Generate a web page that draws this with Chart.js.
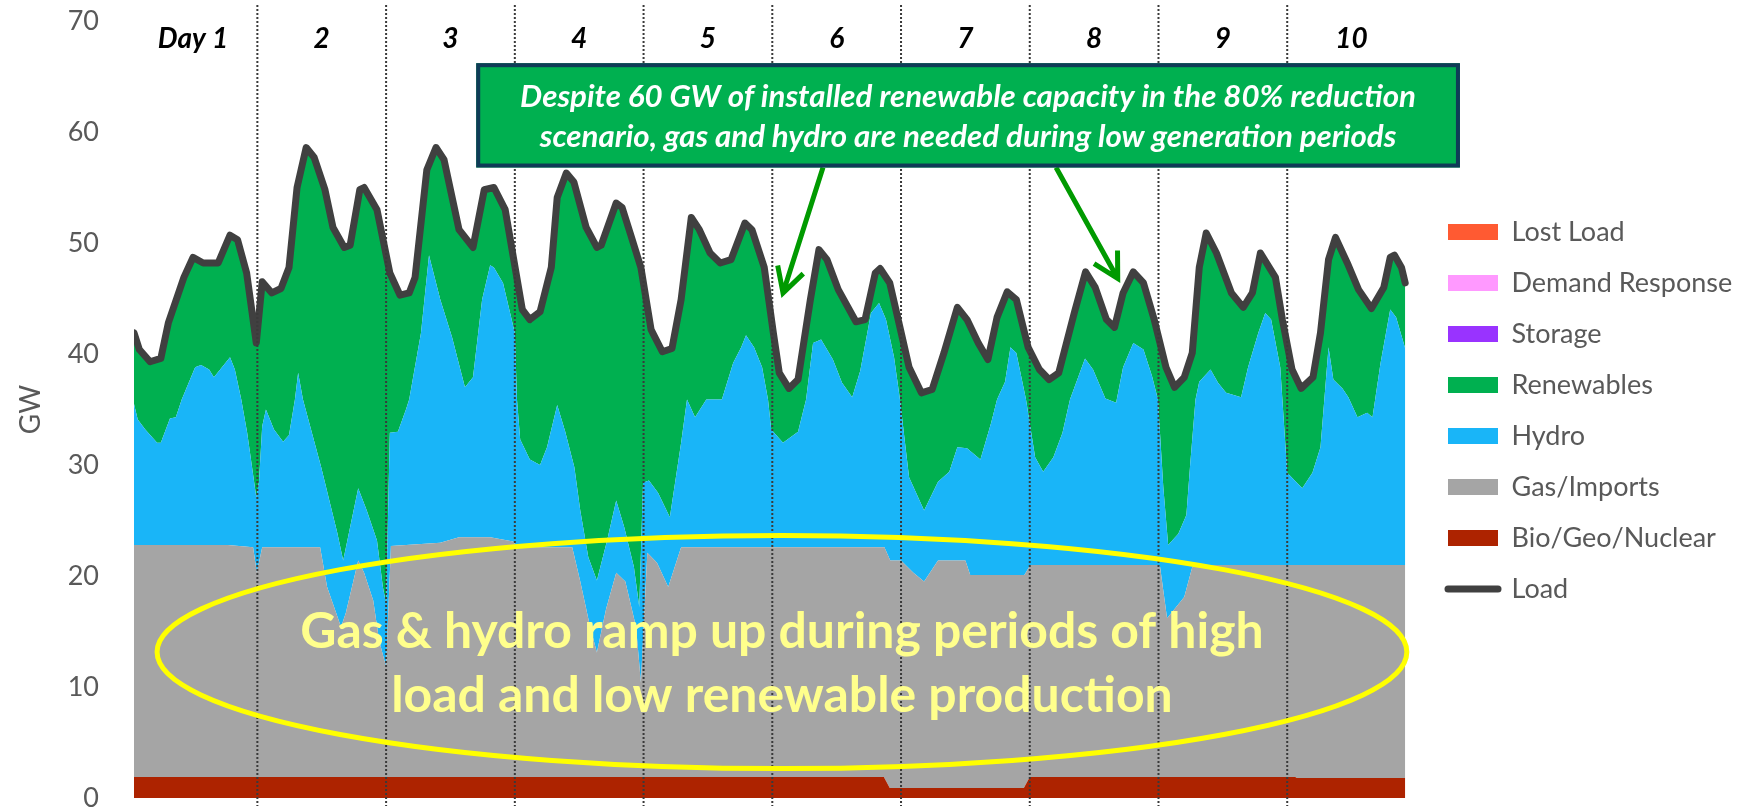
<!DOCTYPE html>
<html>
<head>
<meta charset="utf-8">
<script src="https://cdn.jsdelivr.net/npm/chart.js@4.4.1/dist/chart.umd.min.js"></script>
<style>
    html, body { margin: 0; padding: 0; background: #fff; }
</style>
</head>
<body>
<canvas id="dispatchChart" width="1743" height="809"></canvas>
<script>
const dayLabels = ['Day 1', '2', '3', '4', '5', '6', '7', '8', '9', '10'];
const hoursPerDay = 24;
const yTicks = [0, 10, 20, 30, 40, 50, 60, 70];

// load (GW) read at the hours where the curve turns
const loadHours = [1, 2, 4, 6, 7.4, 10.3, 12, 13.9, 16.7, 18.9,
    20.3, 22, 23.8, 24.9, 26.7, 28.4, 29.9, 31.4, 33.1, 34.6,
    36.6, 38.1, 40.2, 41.3, 43.1, 43.9, 46.3, 48.7, 50.6, 52.3,
    53.4, 55.6, 57.3, 58.8, 61.6, 64.2, 66.3, 68.1, 70.2, 73.4,
    74.8, 76.7, 78.8, 79.9, 81.6, 83, 85.3, 87.3, 88.1, 90.9,
    92, 93.5, 95.5, 97.4, 99.5, 101.3, 103, 104.9, 106.4, 108.4,
    110.3, 112.3, 114.9, 116.2, 118.5, 120.2, 121.3, 123.1, 124.8, 127.1,
    128.7, 130.2, 132.3, 135.6, 137.3, 139.2, 140.1, 141.9, 143.8, 145.5,
    147.8, 149.8, 152, 154.5, 156.3, 158.4, 160.2, 161.9, 163.8, 165.5,
    167.7, 169.8, 171.6, 173.4, 176.3, 178.4, 180.2, 182.3, 183.8, 185.4,
    187.3, 189.2, 191.2, 193.4, 195, 196.8, 198.3, 199.6, 200.9, 202.8,
    205.6, 207.8, 209.5, 211, 213.8, 215.1, 216.9, 218.6, 220.8, 222.2,
    223.7, 225, 227.2, 229.3, 231.7, 234, 235.2, 236, 237.3, 238];
const loadGW = [41.9, 40.4, 39.3, 39.6, 42.8, 46.9, 48.7, 48.2, 48.2, 50.7,
    50.3, 47.3, 41.0, 46.5, 45.5, 45.9, 47.8, 55.0, 58.6, 57.7,
    54.8, 51.4, 49.6, 49.8, 54.8, 55.0, 53.0, 47.3, 45.3, 45.5,
    46.9, 56.6, 58.6, 57.5, 51.2, 49.6, 54.8, 55.0, 53.0, 44.0,
    43.1, 43.8, 47.8, 54.1, 56.3, 55.5, 51.4, 49.6, 49.8, 53.6,
    53.2, 50.9, 47.8, 42.2, 40.2, 40.5, 44.9, 52.3, 51.2, 49.1,
    48.2, 48.5, 51.8, 51.2, 47.8, 41.9, 38.3, 36.9, 37.7, 44.9,
    49.4, 48.5, 45.8, 42.9, 43.1, 47.3, 47.7, 46.4, 42.4, 38.8,
    36.5, 36.8, 40.1, 44.2, 43.1, 41.0, 39.5, 43.3, 45.6, 44.9,
    40.6, 38.6, 37.7, 38.3, 43.7, 47.4, 46.0, 43.1, 42.4, 45.5,
    47.4, 46.4, 43.1, 38.8, 37.0, 37.9, 40.1, 47.8, 50.9, 49.1,
    45.5, 44.2, 45.5, 49.1, 46.9, 43.1, 38.6, 36.9, 37.9, 41.9,
    48.5, 50.5, 48.2, 45.8, 44.1, 46.0, 48.7, 48.9, 47.8, 46.4];

// upper edge of the hydro band (stacked GW)
const hydroHours = [1, 1.7, 3.1, 5.3, 6.0, 7.7, 8.8, 9.9, 12.4, 13.5,
    15.0, 15.9, 17.4, 18.9, 19.8, 21.0, 22.1, 23.8, 24.3, 24.9,
    25.6, 27.1, 28.8, 29.9, 31.0, 31.6, 32.5, 35.9, 38.9, 40.0,
    40.9, 42.8, 44.4, 46.3, 47.4, 48.0, 48.7, 50.2, 51.7, 52.3,
    54.5, 56.0, 58.1, 60.3, 62.7, 64.2, 65.9, 67.4, 68.1, 69.8,
    72.0, 72.4, 73.0, 74.8, 76.7, 78.0, 79.9, 81.4, 83.1, 84.2,
    85.7, 87.3, 89.2, 90.9, 92.4, 94.2, 95.2, 95.9, 97.0, 98.7,
    100.9, 103.0, 104.1, 105.6, 107.7, 110.6, 112.7, 114.2, 115.1, 116.6,
    118.1, 119.2, 119.8, 122.0, 124.8, 126.3, 127.6, 129.1, 131.3, 133.0,
    134.9, 136.4, 138.4, 139.9, 141.2, 142.7, 143.8, 145.5, 148.3, 150.9,
    153.0, 154.5, 156.3, 158.8, 160.8, 161.9, 163.4, 164.4, 165.5, 167.3,
    169.0, 170.5, 172.4, 174.1, 175.5, 178.3, 179.8, 182.1, 184.1, 185.4,
    187.3, 189.2, 190.8, 191.9, 192.9, 193.8, 195.7, 197.2, 197.9, 198.9,
    199.6, 201.7, 203.1, 204.6, 207.4, 208.7, 210.6, 211.9, 213.0, 214.7,
    216.0, 218.8, 220.7, 222.2, 223.7, 224.6, 226.3, 227.4, 229.1, 230.9,
    231.9, 233.4, 235.2, 236.3, 238.0];
const hydroTopGW = [35.5, 34.1, 33.2, 32.0, 32.0, 34.2, 34.3, 35.9, 38.8, 39.0,
    38.6, 37.9, 38.8, 39.7, 38.6, 35.9, 32.9, 27.1, 28.5, 33.5,
    35.0, 33.2, 32.1, 32.7, 35.9, 38.3, 35.9, 29.8, 23.9, 21.4,
    23.5, 27.9, 25.9, 23.2, 19.0, 17.5, 32.9, 33.0, 35.0, 35.9,
    41.9, 48.9, 44.9, 41.5, 37.0, 37.9, 44.9, 48.0, 47.8, 46.4,
    41.9, 35.9, 32.3, 30.5, 30.0, 31.6, 35.4, 33.0, 29.8, 25.9,
    21.7, 19.6, 23.2, 26.8, 24.4, 20.8, 17.2, 28.4, 28.6, 27.5,
    25.3, 32.0, 35.9, 34.3, 35.9, 35.9, 39.2, 40.6, 41.7, 40.6,
    38.8, 35.9, 33.2, 32.0, 33.0, 35.9, 41.0, 41.3, 39.5, 37.4,
    36.1, 38.5, 43.7, 44.6, 43.1, 39.7, 35.9, 28.9, 25.9, 28.5,
    29.4, 31.6, 31.5, 30.5, 33.8, 35.9, 37.5, 40.6, 40.1, 35.9,
    30.7, 29.4, 30.7, 32.9, 35.9, 39.6, 38.6, 36.0, 35.6, 38.8,
    41.0, 40.4, 38.0, 35.9, 28.0, 22.8, 23.8, 25.5, 30.0, 35.9,
    37.5, 38.6, 37.4, 36.5, 36.1, 38.8, 41.9, 43.7, 43.1, 38.8,
    29.3, 27.9, 29.3, 31.6, 40.6, 37.7, 36.9, 36.1, 34.3, 34.7,
    34.3, 39.2, 44.0, 43.3, 40.5];

// upper edge of the gas/imports band (stacked GW)
const gasHours = [1, 18.5, 23.2, 23.9, 24.9, 35.7, 37.0, 39.6, 40.5, 42.8,
    43.9, 45.6, 46.7, 48.0, 48.9, 58.1, 61.6, 67.4, 71.7, 72.4,
    82.7, 84.2, 86.0, 87.3, 89.0, 90.9, 92.6, 94.6, 95.5, 96.7,
    98.5, 100.6, 103.0, 140.9, 142.0, 144.0, 146.3, 148.3, 150.9, 156.0,
    156.9, 167.0, 168.1, 191.9, 192.3, 193.6, 196.8, 198.3, 198.9, 238];
const gasTopGW = [22.8, 22.8, 22.6, 20.3, 22.6, 22.6, 19.0, 15.4, 16.7, 21.4,
    20.3, 17.8, 14.2, 11.8, 22.7, 23.0, 23.5, 23.5, 23.1, 22.6,
    22.6, 19.5, 15.5, 13.1, 17.0, 20.3, 19.5, 15.4, 10.4, 22.1,
    21.2, 19.0, 22.6, 22.6, 21.4, 21.4, 20.3, 19.5, 21.4, 21.4,
    20.1, 20.1, 21.0, 21.0, 20.8, 16.2, 18.1, 20.8, 21.0, 21.0];

const bioHours = [1, 140.8, 141.9, 166.9, 168.0, 217.5, 217.8, 238];
const bioGW = [1.9, 1.9, 0.9, 0.9, 1.9, 1.9, 1.8, 1.8];

// storage, demand response and lost load stay at zero
const zeroHours = [1, 238];
const zeroGW = [0, 0];

const callout = {
    from: [64.8, 66.2],
    to: [248.2, 56.8],
    lines: ['Despite 60 GW of installed renewable capacity in the 80% reduction',
        'scenario, gas and hydro are needed during low generation periods'],
    baselines: [62.25, 58.65]
};
const arrows = [
    { from: [129.45, 56.8], to: [122.0, 45.5] },
    { from: [172.9, 56.8], to: [184.4, 46.8] }
];
const ring = {
    center: [121.8, 13.15],
    radius: [116.5, 10.5],
    lines: ['Gas & hydro ramp up during periods of high', 'load and low renewable production'],
    baselines: [13.5, 7.75]
};

const fontFamily = 'Lato, "Open Sans", sans-serif';
const legendFontSize = 27;
const legendPadding = 24;
const legendBoxWidth = 50;
const plotLeft = 134;
const plotRight = 1424;
Chart.defaults.font.family = fontFamily;

function toPoints(hours, values) {
    return hours.map((h, i) => ({ x: h, y: values[i] }));
}

function areaDataset(label, hours, values, color, fill) {
    return {
        label: label,
        data: toPoints(hours, values),
        backgroundColor: color,
        borderColor: color,
        borderWidth: 0,
        pointRadius: 0,
        pointStyle: 'rect',
        fill: fill
    };
}

function legendRank(item) {
    return item.text === 'Load' ? 100 : -item.datasetIndex;
}

// room left on the right so the legend starts just after the plot
function legendRoom(labels) {
    const ctx = document.createElement('canvas').getContext('2d');
    ctx.font = `normal ${legendFontSize}px ${fontFamily}`;
    const widest = Math.max(...labels.map(l => ctx.measureText(l).width));
    const legendWidth = legendPadding + legendBoxWidth + legendFontSize / 2 + widest + 10;
    return Math.max(0, 1743 - plotRight - legendWidth);
}

function fitFont(ctx, style, text, width, base) {
    ctx.font = `${style} ${base}px ${fontFamily}`;
    const size = base * width / ctx.measureText(text).width;
    ctx.font = `${style} ${size}px ${fontFamily}`;
}

function drawArrow(ctx, x0, y0, x1, y1) {
    const ang = Math.atan2(y1 - y0, x1 - x0);
    const head = 28;
    const spread = 0.5;
    ctx.beginPath();
    ctx.moveTo(x0, y0);
    ctx.lineTo(x1, y1);
    ctx.moveTo(x1 - head * Math.cos(ang - spread), y1 - head * Math.sin(ang - spread));
    ctx.lineTo(x1, y1);
    ctx.lineTo(x1 - head * Math.cos(ang + spread), y1 - head * Math.sin(ang + spread));
    ctx.stroke();
}

// value labels of the GW axis, right aligned a fixed gap left of the plot
const gwLabels = {
    id: 'gwLabels',
    afterDraw(chart) {
        const { ctx, chartArea, scales: { y } } = chart;
        ctx.save();
        ctx.font = `normal 27px ${fontFamily}`;
        ctx.fillStyle = '#595959';
        ctx.textAlign = 'right';
        ctx.textBaseline = 'middle';
        for (const v of yTicks) {
            ctx.fillText(String(v), chartArea.left - 35, y.getPixelForValue(v));
        }
        ctx.restore();
    }
};

const dayDividers = {
    id: 'dayDividers',
    afterDatasetsDraw(chart) {
        const { ctx, chartArea, scales: { x } } = chart;
        ctx.save();
        ctx.strokeStyle = '#3a3a3a';
        ctx.lineWidth = 2;
        ctx.setLineDash([2, 2]);
        for (let d = 1; d < dayLabels.length; d++) {
            const px = x.getPixelForValue(d * hoursPerDay);
            ctx.beginPath();
            ctx.moveTo(px, chartArea.top - 16);
            ctx.lineTo(px, chartArea.bottom + 8);
            ctx.stroke();
        }
        ctx.restore();
    }
};

const notes = {
    id: 'notes',
    afterDraw(chart) {
        const { ctx, scales: { x, y } } = chart;
        const px = (t) => x.getPixelForValue(t);
        const py = (v) => y.getPixelForValue(v);
        ctx.save();

        // arrows first, the callout box hides their tails
        ctx.strokeStyle = '#009a00';
        ctx.lineWidth = 5;
        for (const a of arrows) {
            drawArrow(ctx, px(a.from[0]), py(a.from[1]), px(a.to[0]), py(a.to[1]));
        }

        const bx0 = px(callout.from[0]);
        const by0 = py(callout.from[1]);
        const bx1 = px(callout.to[0]);
        const by1 = py(callout.to[1]);
        ctx.fillStyle = '#00b050';
        ctx.fillRect(bx0, by0, bx1 - bx0, by1 - by0);
        ctx.strokeStyle = '#0f3b57';
        ctx.lineWidth = 4;
        ctx.strokeRect(bx0 + 2, by0 + 2, bx1 - bx0 - 4, by1 - by0 - 4);
        fitFont(ctx, 'italic bold', callout.lines[0], (bx1 - bx0) * 0.911, 28);
        ctx.fillStyle = '#ffffff';
        ctx.textAlign = 'center';
        ctx.textBaseline = 'alphabetic';
        callout.lines.forEach((line, i) => {
            ctx.fillText(line, (bx0 + bx1) / 2, py(callout.baselines[i]));
        });

        const cx = px(ring.center[0]);
        const cy = py(ring.center[1]);
        const rx = px(ring.center[0] + ring.radius[0]) - cx;
        const ry = cy - py(ring.center[1] + ring.radius[1]);
        ctx.strokeStyle = '#ffff00';
        ctx.lineWidth = 5;
        ctx.beginPath();
        ctx.ellipse(cx, cy, rx, ry, 0, 0, Math.PI * 2);
        ctx.stroke();
        fitFont(ctx, 'bold', ring.lines[0], rx * 2 * 0.771, 48);
        ctx.fillStyle = '#ffff8c';
        ring.lines.forEach((line, i) => {
            ctx.fillText(line, cx, py(ring.baselines[i]));
        });

        ctx.restore();
    }
};

function renderChart() {
    const datasets = [
        areaDataset('Bio/Geo/Nuclear', bioHours, bioGW, '#ad2300', 'origin'),
        areaDataset('Gas/Imports', gasHours, gasTopGW, '#a5a5a5', '-1'),
        areaDataset('Hydro', hydroHours, hydroTopGW, '#19b5f8', '-1'),
        areaDataset('Renewables', loadHours, loadGW, '#00b050', '-1'),
        areaDataset('Storage', zeroHours, zeroGW, '#9933ff', false),
        areaDataset('Demand Response', zeroHours, zeroGW, '#ff99ff', false),
        areaDataset('Lost Load', zeroHours, zeroGW, '#ff5a32', false),
        {
            label: 'Load',
            data: toPoints(loadHours, loadGW),
            borderColor: '#404040',
            backgroundColor: '#404040',
            borderWidth: 7,
            borderJoinStyle: 'round',
            borderCapStyle: 'round',
            pointRadius: 0,
            pointStyle: 'line',
            fill: false,
            order: -1
        }
    ];
    const rightRoom = legendRoom(datasets.map(d => d.label));

    const ctx = document.getElementById('dispatchChart').getContext('2d');
    return new Chart(ctx, {
        type: 'line',
        data: { datasets: datasets },
        options: {
            responsive: false,
            animation: false,
            events: [],
            layout: { padding: { left: 0, right: rightRoom, top: 0, bottom: 11 } },
            scales: {
                x: {
                    type: 'linear',
                    position: 'top',
                    min: 1,
                    max: 241.5,
                    grid: { display: false, drawTicks: false },
                    border: { display: false },
                    afterBuildTicks: (scale) => {
                        scale.ticks = dayLabels.map((_, i) => ({ value: i * hoursPerDay + hoursPerDay / 2 }));
                    },
                    afterFit: (scale) => {
                        scale.height = 21;
                        scale.paddingLeft = 0;
                        scale.paddingRight = 0;
                    },
                    ticks: {
                        mirror: true,
                        padding: 1,
                        maxRotation: 0,
                        autoSkip: false,
                        color: '#000000',
                        font: { size: 28, style: 'italic', weight: 'bold' },
                        callback: (value, index) => dayLabels[index]
                    }
                },
                y: {
                    min: 0,
                    max: 70,
                    grid: { display: false, drawTicks: false },
                    border: { display: false },
                    afterBuildTicks: (scale) => {
                        scale.ticks = yTicks.map(v => ({ value: v }));
                    },
                    afterFit: (scale) => {
                        scale.width = plotLeft;
                        scale.paddingTop = 0;
                        scale.paddingBottom = 0;
                    },
                    ticks: { display: false },
                    title: {
                        display: true,
                        text: 'GW',
                        color: '#595959',
                        font: { size: 28 },
                        padding: { top: 14, bottom: 0 }
                    }
                }
            },
            plugins: {
                tooltip: { enabled: false },
                legend: {
                    position: 'right',
                    align: 'start',
                    title: { display: true, text: '', font: { size: 10, lineHeight: 1 }, padding: { top: 184.5, bottom: 0 } },
                    labels: {
                        usePointStyle: true,
                        pointStyleWidth: legendBoxWidth,
                        boxHeight: 16,
                        padding: legendPadding,
                        color: '#595959',
                        font: { size: legendFontSize },
                        sort: (a, b) => legendRank(a) - legendRank(b),
                        generateLabels: (chart) => {
                            const items = Chart.defaults.plugins.legend.labels.generateLabels(chart);
                            items.forEach(item => {
                                if (item.pointStyle === 'line') {
                                    item.lineCap = 'round';
                                }
                            });
                            return items;
                        }
                    }
                }
            }
        },
        plugins: [dayDividers, gwLabels, notes]
    });
}

renderChart();
</script>
</body>
</html>
